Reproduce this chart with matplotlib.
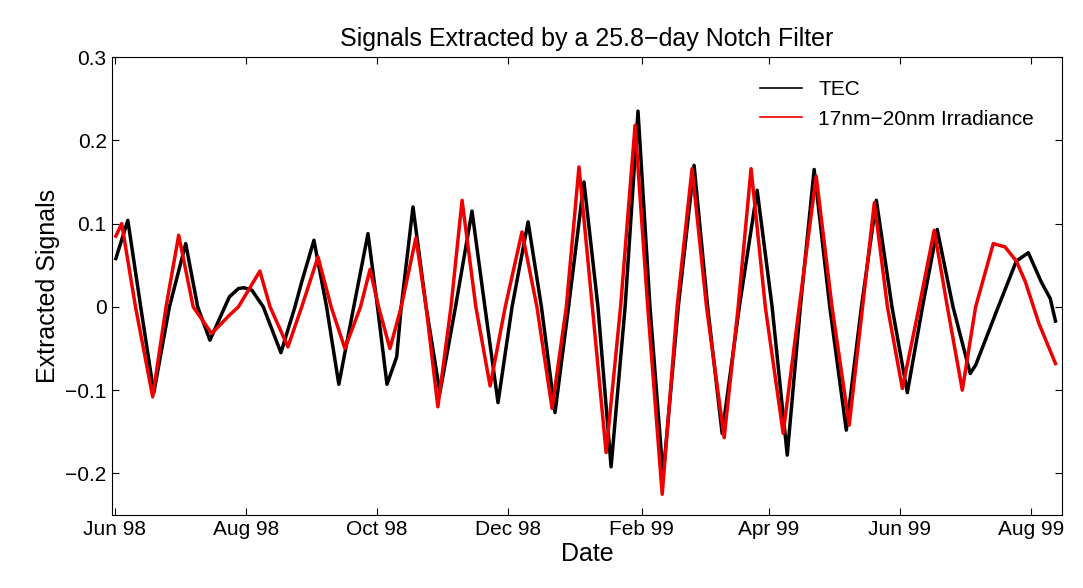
import matplotlib
matplotlib.use("Agg")
import matplotlib.pyplot as plt
import datetime as dt

plt.rcParams['font.family'] = ['Liberation Sans', 'DejaVu Sans']

start = dt.date(1998, 6, 1)
# day offsets as read on the picture's own grid (reading units), converted to days below
tec_days = [1.8,7.1,12.8,18.6,25.5,32.7,38,43.4,50,52,56,58.4,62,67,74.8,81,84,89.4,95,100.4,107,113.3,117.5,121.7,126,128,133.2,139,145.1,150,152,159.3,165,170.8,177,184.1,190,196.0,202,208.8,215,220.8,227,232.7,238,243.8,250.5,257.5,263.5,269.9,277.5,285.4,292,298.7,304.5,310.6,317.5,324.8,331.5,338.1,345,351.8,358.5,365,372,379.6,382,392,400,405.3,411,415,417.3]
tec_vals = [.058,.104,0,-.103,0,.076,0,-.04,0,.012,.022,.023,.02,0,-.055,0,.03,.08,0,-.093,0,.088,0,-.093,-.06,0,.12,0,-.103,-.03,0,.115,0,-.115,0,.102,0,-.127,0,.15,0,-.192,0,.235,0,-.203,0,.17,0,-.152,0,.14,0,-.178,0,.165,0,-.148,0,.128,0,-.103,0,.093,0,-.08,-.07,0,.055,.065,.03,.01,-.017]
irr_days = [1.8,4.4,10.5,18.1,24,29.6,36,44.2,52,56,65.5,70,77.9,84,91.2,97,103.1,110,114.2,118,123,128,134.5,139,144.2,150,154.9,161,167.3,174,181.4,188,194.7,201,206.6,212.5,218.6,225,231.4,237,243.4,250,256.6,263,270.8,277,282.7,289,296.9,304,311.5,318.5,326.1,332,337.2,343,349.6,357,363.7,369.5,376.1,382,389.8,395,400,404,410,417.3]
irr_vals = [.085,.1,0,-.108,0,.086,0,-.032,-.01,0,.043,0,-.048,0,.06,0,-.05,0,.045,0,-.05,0,.083,0,-.12,0,.128,0,-.095,0,.09,0,-.122,0,.168,0,-.175,0,.218,0,-.225,0,.166,0,-.157,0,.166,0,-.152,0,.157,0,-.142,0,.125,0,-.098,0,.092,0,-.1,0,.076,.072,.055,.03,-.02,-.068]
DAY_SCALE, DAY_SHIFT = 1.0512, -1.4

tick_dates = [dt.date(1998,6,1),dt.date(1998,8,1),dt.date(1998,10,1),dt.date(1998,12,1),dt.date(1999,2,1),dt.date(1999,4,1),dt.date(1999,6,1),dt.date(1999,8,1)]
tick_labels = ['Jun 98','Aug 98','Oct 98','Dec 98','Feb 99','Apr 99','Jun 99','Aug 99']

tx = [d*DAY_SCALE + DAY_SHIFT for d in tec_days]
ix = [d*DAY_SCALE + DAY_SHIFT for d in irr_days]

fig = plt.figure(figsize=(10.83, 5.88), dpi=100)
ax = fig.add_axes([0.103, 0.124, 0.878, 0.779])
ax.plot(tx, tec_vals, color='black', lw=2.5, label='TEC', solid_joinstyle='round')
ax.plot(ix, irr_vals, color='#ee0000', lw=2.5, label='17nm\u221220nm Irradiance', solid_joinstyle='round')
ax.set_xlim(-1.5, 440.5)
ax.set_ylim(-0.25, 0.3)
ax.set_xticks([(d-start).days for d in tick_dates])
ax.set_xticklabels(tick_labels)
ax.set_yticks([-0.2,-0.1,0,0.1,0.2,0.3])
ax.set_yticklabels(['\u22120.2','\u22120.1','0','0.1','0.2','0.3'])
ax.tick_params(direction='in', labelsize=15, top=True, right=True, length=5)
ax.set_xlabel('Date', fontsize=18, labelpad=2)
ax.set_ylabel('Extracted Signals', fontsize=18)
ax.set_title('Signals Extracted by a 25.8\u2212day Notch Filter', fontsize=18, pad=8)
leg = ax.legend(loc='upper right', frameon=False, fontsize=15, handlelength=2, bbox_to_anchor=(0.99, 0.99))
for l in leg.get_lines():
    l.set_linewidth(1.2)
fig.savefig('out.png', dpi=100)
